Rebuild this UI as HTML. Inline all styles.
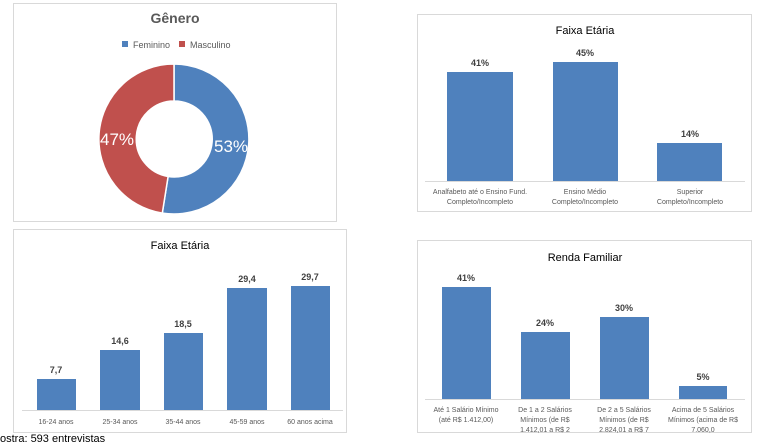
<!DOCTYPE html>
<html><head><meta charset="utf-8"><style>
body{margin:0;background:#fff;}
svg{display:block;font-family:"Liberation Sans",sans-serif;}
</style></head><body>
<svg width="757" height="444" viewBox="0 0 757 444">
<rect x="13.5" y="3.5" width="323" height="218" fill="#fff" stroke="#d9d9d9"/>
<text x="175" y="23" text-anchor="middle" font-size="14" font-weight="bold" fill="#595959">Gênero</text>
<rect x="122" y="41" width="6" height="6" fill="#4f81bd"/>
<text x="133" y="48" font-size="9" fill="#595959">Feminino</text>
<rect x="179" y="41" width="6" height="6" fill="#c0504d"/>
<text x="190" y="48" font-size="9" fill="#595959">Masculino</text>
<path d="M174,64 A75,75 0 1 1 162.3,213.1 L168.1,176.5 A38,38 0 1 0 174,101 Z" fill="#4f81bd" stroke="#fff" stroke-width="1.5"/>
<path d="M162.3,213.1 A75,75 0 0 1 174,64 L174,101 A38,38 0 0 0 168.1,176.5 Z" fill="#c0504d" stroke="#fff" stroke-width="1.5"/>
<text x="117" y="145" text-anchor="middle" font-size="17" fill="#fff">47%</text>
<text x="231" y="152" text-anchor="middle" font-size="17" fill="#fff">53%</text>

<rect x="417.5" y="14.5" width="334" height="197" fill="#fff" stroke="#d9d9d9"/>
<text x="585" y="34" text-anchor="middle" font-size="11" fill="#000">Faixa Etária</text>
<line x1="425" y1="181.5" x2="745" y2="181.5" stroke="#d9d9d9"/>
<g fill="#4f81bd"><rect x="447" y="72" width="66" height="109"/><rect x="553" y="62" width="65" height="119"/><rect x="657" y="143" width="65" height="38"/></g>
<g font-size="9" font-weight="bold" fill="#404040" text-anchor="middle"><text x="480" y="66">41%</text><text x="585" y="56">45%</text><text x="690" y="137">14%</text></g>
<g font-size="7" fill="#595959" text-anchor="middle"><text x="480" y="194">Analfabeto até o Ensino Fund.</text><text x="480" y="204">Completo/Incompleto</text><text x="585" y="194">Ensino Médio</text><text x="585" y="204">Completo/Incompleto</text><text x="690" y="194">Superior</text><text x="690" y="204">Completo/Incompleto</text></g>

<rect x="13.5" y="229.5" width="333" height="203" fill="#fff" stroke="#d9d9d9"/>
<text x="180" y="249" text-anchor="middle" font-size="11" fill="#000">Faixa Etária</text>
<line x1="22" y1="410.5" x2="343" y2="410.5" stroke="#d9d9d9"/>
<g fill="#4f81bd"><rect x="37" y="379" width="39" height="31"/><rect x="100" y="350" width="40" height="60"/><rect x="164" y="333" width="39" height="77"/><rect x="227" y="288" width="40" height="122"/><rect x="291" y="286" width="39" height="124"/></g>
<g font-size="9" font-weight="bold" fill="#404040" text-anchor="middle"><text x="56" y="373">7,7</text><text x="120" y="344">14,6</text><text x="183" y="327">18,5</text><text x="247" y="282">29,4</text><text x="310" y="280">29,7</text></g>
<g font-size="7" fill="#595959" text-anchor="middle"><text x="56" y="424">16-24 anos</text><text x="120" y="424">25-34 anos</text><text x="183" y="424">35-44 anos</text><text x="247" y="424">45-59 anos</text><text x="310" y="424">60 anos acima</text></g>
<text x="0" y="442" font-size="11" fill="#000">ostra: 593  entrevistas</text>

<rect x="417.5" y="240.5" width="334" height="192" fill="#fff" stroke="#d9d9d9"/>
<text x="585" y="261" text-anchor="middle" font-size="11" fill="#000">Renda Familiar</text>
<line x1="425" y1="399.5" x2="745" y2="399.5" stroke="#d9d9d9"/>
<g fill="#4f81bd"><rect x="442" y="287" width="49" height="112"/><rect x="521" y="332" width="49" height="67"/><rect x="600" y="317" width="49" height="82"/><rect x="679" y="386" width="48" height="13"/></g>
<g font-size="9" font-weight="bold" fill="#404040" text-anchor="middle"><text x="466" y="281">41%</text><text x="545" y="326">24%</text><text x="624" y="311">30%</text><text x="703" y="380">5%</text></g>
<g font-size="7" fill="#595959" text-anchor="middle"><text x="466" y="412">Até 1 Salário Mínimo</text><text x="466" y="422">(até R$ 1.412,00)</text><text x="545" y="412">De 1 a 2 Salários</text><text x="545" y="422">Mínimos (de R$</text><text x="545" y="432">1.412,01 a R$ 2</text><text x="624" y="412">De 2 a 5 Salários</text><text x="624" y="422">Mínimos (de R$</text><text x="624" y="432">2.824,01 a R$ 7</text><text x="703" y="412">Acima de 5 Salários</text><text x="703" y="422">Mínimos (acima de R$</text><text x="703" y="432">7.060,0</text></g>
</svg>
</body></html>
